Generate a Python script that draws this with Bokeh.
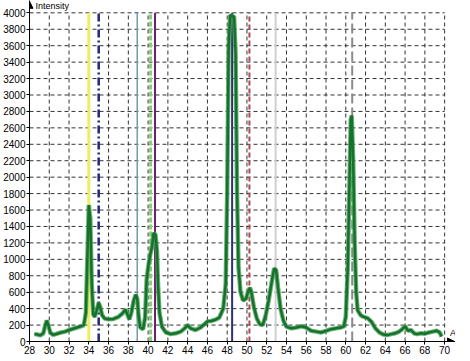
from bokeh.plotting import figure
from bokeh.models import Range1d, FixedTicker, Arrow, NormalHead, Label
from bokeh.embed import file_html
from bokeh.resources import INLINE

# ---- data ----
x_vals = [28.5, 28.8, 29.1, 29.4, 29.6, 29.75, 29.9, 30.1, 30.4, 30.8, 31.2, 31.6, 32.0, 32.4,
          32.8, 33.2, 33.5, 33.7, 33.85, 34.0, 34.15, 34.3, 34.45, 34.6, 34.8, 35.0, 35.15,
          35.35, 35.6, 36.0, 36.5, 37.0, 37.4, 37.7, 37.9, 38.1, 38.3, 38.55, 38.75, 38.9,
          39.05, 39.2, 39.5, 39.7, 39.85, 40.0, 40.2, 40.4, 40.55, 40.75, 40.9, 41.0, 41.15,
          41.4, 41.8, 42.3, 42.8, 43.3, 43.7, 44.0, 44.3, 44.8, 45.3, 45.7, 46.0, 46.4, 46.8,
          47.2, 47.6, 47.85, 48.0, 48.15, 48.3, 48.55, 48.7, 48.85, 49.0, 49.15, 49.35, 49.6,
          49.9, 50.1, 50.3, 50.45, 50.7, 51.0, 51.3, 51.6, 51.9, 52.2, 52.5, 52.75, 52.95,
          53.15, 53.4, 53.7, 54.0, 54.5, 55.0, 55.5, 56.0, 56.5, 57.0, 57.5, 58.0, 58.5, 59.0,
          59.5, 59.8, 60.0, 60.2, 60.35, 60.5, 60.6, 60.75, 60.9, 61.05, 61.2, 61.5, 61.8,
          62.2, 62.6, 63.0, 63.4, 63.8, 64.2, 64.6, 65.0, 65.4, 65.7, 66.0, 66.3, 66.6, 66.9,
          67.2, 67.6, 68.0, 68.4, 68.8, 69.2, 69.5, 69.7]
intensity = [90, 85, 75, 100, 200, 255, 200, 110, 80, 95, 110, 120, 140, 155,
             170, 185, 200, 350, 1000, 1660, 1500, 700, 330, 300, 380, 470, 420,
             320, 280, 270, 275, 300, 340, 390, 330, 270, 350, 500, 570, 520,
             300, 170, 150, 300, 750, 900, 1050, 1150, 1320, 1300, 1100, 700, 350,
             180, 110, 90, 100, 120, 160, 200, 160, 140, 170, 210, 245, 250, 265,
             290, 400, 700, 1800, 3600, 3970, 3960, 3950, 3500, 1800, 900, 600, 500,
             520, 600, 655, 600, 420, 280, 210, 200, 320, 500, 720, 890, 870,
             650, 400, 250, 180, 160, 170, 185, 170, 130, 120, 110, 130, 150, 160,
             170, 185, 300, 900, 1800, 2700, 2750, 2200, 1200, 600, 380, 320, 300,
             285, 240, 160, 110, 85, 78, 90, 100, 120, 150, 185, 130, 140, 100,
             90, 100, 95, 110, 120, 130, 110, 60]

x_ticks = list(range(28, 71, 2))
y_ticks = list(range(0, 4001, 200))

marker_positions = [34.0, 35.0, 38.9, 40.25, 40.7, 48.5, 50.25, 52.9, 60.65]
marker_colors = ["#eeee60", "#25257a", "#6f9db2", "#86d07a", "#6e1e6e", "#2f2f72",
                 "#b04a4a", "#cfcfcf", "#8a8a8a"]
marker_dashes = ["solid", "8 3 2 3", "solid", "5 2", "solid", "solid", "5 3", "solid", "10 4"]
marker_widths = [3, 2.5, 1.5, 3, 2, 2, 2, 2, 2]

FONT = "Liberation Sans"

x_lo, x_hi = x_ticks[0], x_ticks[-1]
y_lo, y_hi = y_ticks[0], y_ticks[-1]

p = figure(frame_width=426, frame_height=341, output_backend="svg", toolbar_location=None,
           x_range=Range1d(x_lo, 71.1), y_range=Range1d(y_lo, 4150),
           min_border_left=0, min_border_right=0, min_border_top=0, min_border_bottom=0)
p.outline_line_color = None
p.background_fill_color = "white"
p.border_fill_color = "white"
p.xgrid.visible = False
p.ygrid.visible = False

for ax, t in ((p.xaxis[0], x_ticks), (p.yaxis[0], y_ticks)):
    ax.ticker = FixedTicker(ticks=t)
    ax.axis_line_color = "black"
    ax.major_tick_line_color = "black"
    ax.major_tick_in = 0
    ax.major_tick_out = 3
    ax.minor_tick_line_color = None
    ax.major_label_text_font = FONT
    ax.major_label_text_font_size = "10px"
    ax.major_label_text_color = "black"
    ax.major_label_standoff = 1

# dashed grid, bounded to the tick extent
p.segment(x0=[x_lo] * len(y_ticks[1:]), x1=[x_hi] * len(y_ticks[1:]), y0=y_ticks[1:], y1=y_ticks[1:],
          line_color="#333333", line_dash="4 3", line_width=1)
p.segment(x0=x_ticks[1:], x1=x_ticks[1:], y0=[y_lo] * len(x_ticks[1:]), y1=[y_hi] * len(x_ticks[1:]),
          line_color="#333333", line_dash="4 3", line_width=1)

for pos, col, dash, w in zip(marker_positions, marker_colors, marker_dashes, marker_widths):
    p.segment(x0=[pos], x1=[pos], y0=[y_lo], y1=[y_hi], line_color=col, line_dash=dash, line_width=w)

p.line(x_vals, intensity, line_color="#45a556", line_width=4.5, line_alpha=0.8)
p.line(x_vals, intensity, line_color="#17702c", line_width=2.5)

p.add_layout(Arrow(end=NormalHead(size=7, fill_color="black", line_color="black"),
                   x_start=x_hi, y_start=0, x_end=71.0, y_end=0, line_color="black", line_width=1))
p.add_layout(Arrow(end=NormalHead(size=7, fill_color="black", line_color="black"),
                   x_start=x_lo, y_start=y_hi, x_end=x_lo, y_end=4140, line_color="black", line_width=1))
p.add_layout(Label(x=70.55, y=40, text="A", text_font=FONT, text_font_size="9px",
                   text_color="black"))
p.add_layout(Label(x=x_lo, y=4150, x_offset=6, text="Intensity", text_font=FONT,
                   text_font_size="9px", text_color="black", text_baseline="top"))

open("out.html", "w").write(file_html(p, INLINE))
